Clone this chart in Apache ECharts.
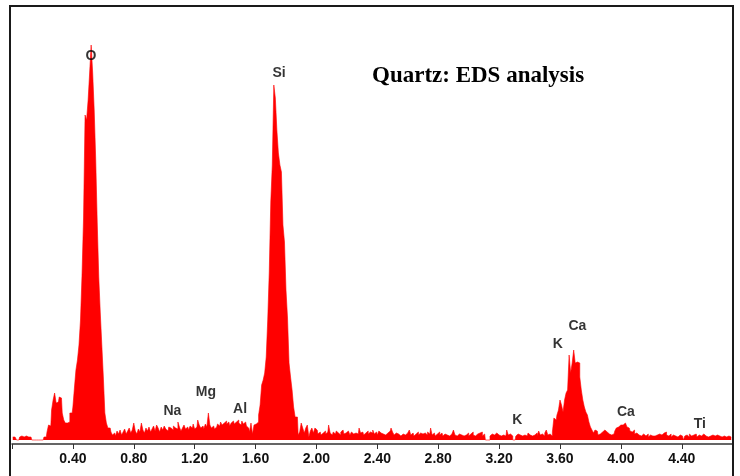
<!DOCTYPE html>
<html>
<head>
<meta charset="utf-8">
<title>Quartz: EDS analysis</title>
<script src="https://cdn.jsdelivr.net/npm/echarts@6/dist/echarts.min.js"></script>
<style>
  html, body { margin: 0; padding: 0; background: #fff; }
  #chart { width: 740px; height: 476px; }
</style>
</head>
<body>
<div id="chart"></div>
<script>
// EDS spectrum of quartz, 10 eV channels starting at 0 keV.
const channelWidth = 0.01; // keV per channel

// Counts per channel, grouped by energy region.
const countsLowE = [3,3,3,0,0,3,4,3,3,4,3,3,3,0,0,0,0,0,0,0,0];
const countsPreOxygen = [3,3,8,15,14,30,40,47,37,38,43,42,27,20,17,17,18,27,27];
const countsOxygen = [33,52,70,80,95,120,165,222,325,320,340,367,395,367,330,280,217,163,127,95,63,27,17,12,12];
const countsNaMgAl = [
  8,5,7,4,9,6,10,5,8,11,
  6,9,12,7,10,17,9,6,11,8,
  17,10,7,12,9,13,8,11,14,9,
  15,12,8,13,10,14,11,9,13,12,
  10,14,12,11,18,13,9,12,15,11,
  13,10,14,12,16,11,13,20,15,12,
  14,11,16,13,27,15,12,14,11,13,
  16,14,18,15,17,19,16,18,14,17,
  19,16,18,20,17,15,19,16,18,14,
  12,8,17,6,15
];
const countsSilicon = [16,18,25,35,55,60,67,83,120,168,238,275,355,342,310,287,275,268,215,198,150,122,77,63,50,33,23,23,5,8,17,12,7,12,15,3];
const countsMidBackground = [
  9,12,7,12,10,6,8,5,7,9,
  6,8,15,7,5,8,6,9,7,5,
  8,10,6,7,9,10,5,8,6,7,
  9,6,12,7,8,5,7,9,6,8,
  7,10,6,8,5,9,7,6,8,5,
  7,6,9,12,8,5,7,6,8,4,
  6,8,5,7,6,10,5,7,4,6,
  8,5,7,6,4,7,5,8,6,12,
  5,7,4,6,8,5,7,4,6,5,
  7,4,6,8,10,5,4,6,7,5,
  4,6,5,7,4,6,8,5,4,6,
  5,7,8,4,6,0,0,0,4,6,
  5,4,7,5,6,4,5,7,4,10,
  5,6,4,0,0,4,6,5,7,4,
  5,6,4,7,5,4,6,5,7,4,
  9,5,6,4,7
];
const countsCalcium = [
  10,5,6,4,8,22,20,25,30,40,
  35,28,40,47,50,85,67,77,90,77,
  78,77,63,50,40,33,28,25,18,13,
  10,7,10,9,5,6,8,7,10,8,
  10,6,5,7,6,9,12,13,15,17,
  15,17,16,13,12,9,8,10,6,7
];
const countsTail = [
  5,7,4,6,5,4,6,3,5,4,
  6,4,5,3,6,5,4,7,8,5,
  4,6,3,5,4,6,3,5,4,4,
  0,4,5,3,6,4,5,4,6,3,
  5,4,3,6,4,5,3,4,6,5,
  4,3,5,4,6,3,4,5,3,4,
  5,3
];

// Peak identifications: element, energy (keV), label height (counts)
const peakNames = ['O','Si','Na','Mg','Al','K','K','Ca','Ca','Ti'];
const peakEnergies = [0.519,1.754,1.054,1.274,1.498,3.320,3.586,3.714,4.033,4.519];
const peakLabelHeights = [384,367,29,48,31,20,96,114,28,16];

const xTickStep = 0.4;
const xMax = 4.73;

const counts = [].concat(countsLowE, countsPreOxygen, countsOxygen, countsNaMgAl,
  countsSilicon, countsMidBackground, countsCalcium, countsTail);
const spectrum = counts.map((c, i) => [Number(((i + 0.5) * channelWidth).toFixed(3)), c]);
const peakLabels = peakNames.map((n, i) => ({ name: n, value: [peakEnergies[i], peakLabelHeights[i]] }));

const chart = echarts.init(document.getElementById('chart'), null, { renderer: 'canvas' });
chart.setOption({
  animation: false,
  backgroundColor: '#ffffff',
  grid: { left: 12, right: 8, top: 6, bottom: 32, outerBoundsMode: 'none', containLabel: false },
  xAxis: {
    type: 'value',
    min: 0,
    max: xMax,
    interval: xTickStep,
    splitLine: { show: false },
    axisLine: { show: true, onZero: false, lineStyle: { color: '#333', width: 1.5 } },
    axisTick: { show: true, inside: false, length: 5, lineStyle: { color: '#333', width: 1 } },
    axisLabel: {
      margin: 8,
      color: '#111',
      fontFamily: '"Liberation Sans", Arial, sans-serif',
      fontWeight: 'bold',
      fontSize: 14,
      showMaxLabel: false,
      formatter: function (v) {
        const k = v / xTickStep;
        if (v <= 0 || Math.abs(k - Math.round(k)) > 1e-6) return '';
        return v.toFixed(2);
      }
    }
  },
  yAxis: {
    type: 'value',
    min: -4,
    max: 434,
    show: false,
    splitLine: { show: false }
  },
  series: [
    {
      type: 'line',
      data: spectrum,
      step: 'middle',
      showSymbol: false,
      symbol: 'none',
      lineStyle: { color: '#ff0000', width: 0.6 },
      areaStyle: { color: '#ff0000', opacity: 1, origin: 0 },
      z: 2
    },
    {
      type: 'scatter',
      data: peakLabels,
      symbolSize: 0,
      silent: true,
      label: {
        show: true,
        position: 'inside',
        formatter: '{b}',
        color: '#000',
        textBorderWidth: 0,
        fontFamily: '"Liberation Sans", Arial, sans-serif',
        fontWeight: 'bold',
        fontSize: 14
      },
      z: 5
    }
  ],
  graphic: [
    {
      type: 'rect',
      shape: { x: 10, y: 6, width: 723, height: 500 },
      style: { fill: 'none', stroke: '#1a1a1a', lineWidth: 2 },
      z: 10,
      silent: true
    },
    {
      type: 'text',
      x: 372,
      y: 76,
      style: {
        text: 'Quartz: EDS analysis',
        font: 'bold 23px "Liberation Serif", "Times New Roman", serif',
        fill: '#000',
        textVerticalAlign: 'middle'
      },
      z: 10
    }
  ]
});
</script>
</body>
</html>
